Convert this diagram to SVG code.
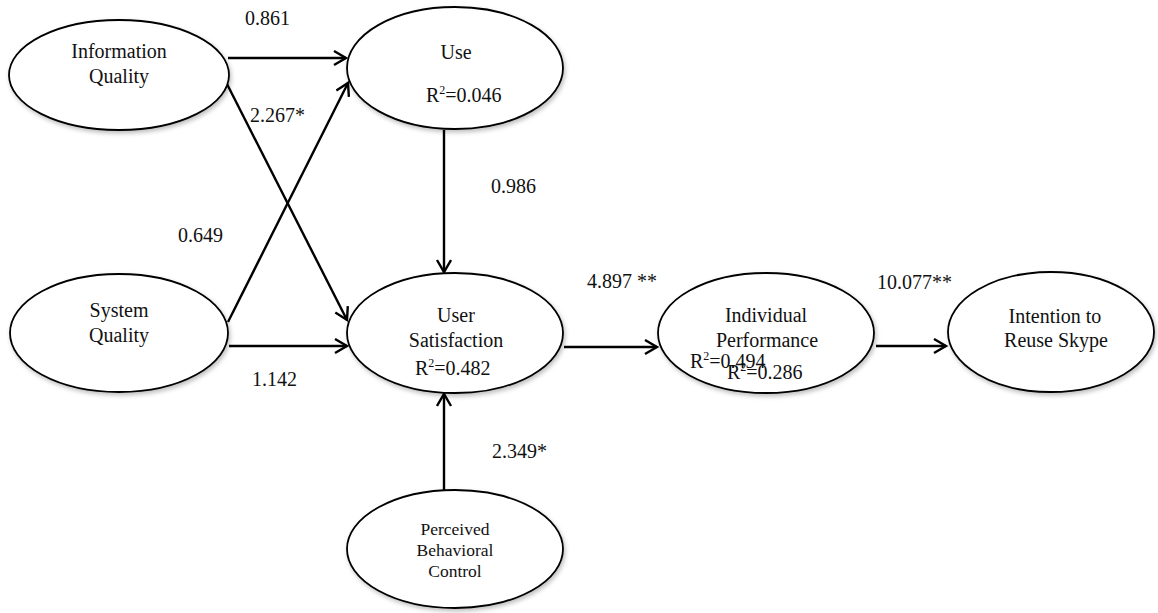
<svg xmlns="http://www.w3.org/2000/svg" width="1158" height="613" viewBox="0 0 1158 613" font-family="'Liberation Serif', 'Times New Roman', Tinos, 'DejaVu Serif', serif">
<style>
.node ellipse{fill:#fff;stroke:#000;stroke-width:1.8;filter:url(#sh)}
text{font-family:'Liberation Serif','Times New Roman',Tinos,'DejaVu Serif',serif;font-size:20px;fill:#111}
.c{text-anchor:middle}
.sm{font-size:17.5px}
#connectors line{stroke:#000;stroke-width:2.4;marker-end:url(#ah)}
</style>
<defs>
<filter id="sh" x="-10%" y="-10%" width="125%" height="130%">
<feDropShadow dx="1.5" dy="2.5" stdDeviation="2" flood-color="#000" flood-opacity="0.25"/>
</filter>
<marker id="ah" markerUnits="userSpaceOnUse" markerWidth="20" markerHeight="20" refX="13" refY="8" orient="auto">
<polyline points="1,1 13,8 1,15" fill="none" stroke="#000" stroke-width="2.4"/>
</marker>
</defs>
<rect width="1158" height="613" fill="#fff"/>
<g id="connectors">
<line x1="228" y1="58" x2="346" y2="58"/>
<line x1="227" y1="84" x2="347" y2="320"/>
<line x1="228" y1="322" x2="348" y2="83"/>
<line x1="229" y1="346" x2="347" y2="346"/>
<line x1="444" y1="130" x2="444" y2="272"/>
<line x1="444" y1="490" x2="444" y2="394"/>
<line x1="564" y1="347" x2="657" y2="347"/>
<line x1="876" y1="346" x2="946" y2="346"/>
</g>
<g id="information-quality" class="node">
<ellipse cx="119" cy="75" rx="110" ry="55"/>
<text class="c" x="119" y="58">Information</text>
<text class="c" x="119" y="83">Quality</text>
</g>
<g id="system-quality" class="node">
<ellipse cx="119" cy="333" rx="109" ry="59"/>
<text class="c" x="119" y="317">System</text>
<text class="c" x="119" y="342">Quality</text>
</g>
<g id="use" class="node">
<ellipse cx="455" cy="68" rx="108" ry="61"/>
<text class="c" x="456" y="59">Use</text>
<text x="426" y="102">R<tspan dy="-8" font-size="12">2</tspan><tspan dy="8">=0.046</tspan></text>
</g>
<g id="user-satisfaction" class="node">
<ellipse cx="455" cy="333" rx="108" ry="60"/>
<text class="c" x="456" y="322">User</text>
<text class="c" x="456" y="347">Satisfaction</text>
<text x="415" y="375">R<tspan dy="-8" font-size="12">2</tspan><tspan dy="8">=0.482</tspan></text>
</g>
<g id="perceived-behavioral-control" class="node">
<ellipse cx="455" cy="549" rx="108" ry="59"/>
<text class="c sm" x="455" y="535">Perceived</text>
<text class="c sm" x="455" y="556">Behavioral</text>
<text class="c sm" x="455" y="577">Control</text>
</g>
<g id="individual-performance" class="node">
<ellipse cx="766" cy="333" rx="108" ry="60"/>
<text class="c" x="766" y="322">Individual</text>
<text class="c" x="767" y="347">Performance</text>
<text x="690" y="368">R<tspan dy="-8" font-size="12">2</tspan><tspan dy="8">=0.494</tspan></text>
<text x="727" y="379">R<tspan dy="-8" font-size="12">2</tspan><tspan dy="8">=0.286</tspan></text>
</g>
<g id="intention-to-reuse-skype" class="node">
<ellipse cx="1051" cy="332" rx="103" ry="60"/>
<text class="c" x="1055" y="323">Intention to</text>
<text class="c" x="1056" y="347">Reuse Skype</text>
</g>
<g id="labels">
<text x="245" y="25">0.861</text>
<text x="250" y="122">2.267*</text>
<text x="178" y="242">0.649</text>
<text x="252" y="386">1.142</text>
<text x="491" y="193">0.986</text>
<text x="492" y="458">2.349*</text>
<text x="587" y="288">4.897 **</text>
<text x="877" y="289">10.077**</text>
</g>
</svg>
